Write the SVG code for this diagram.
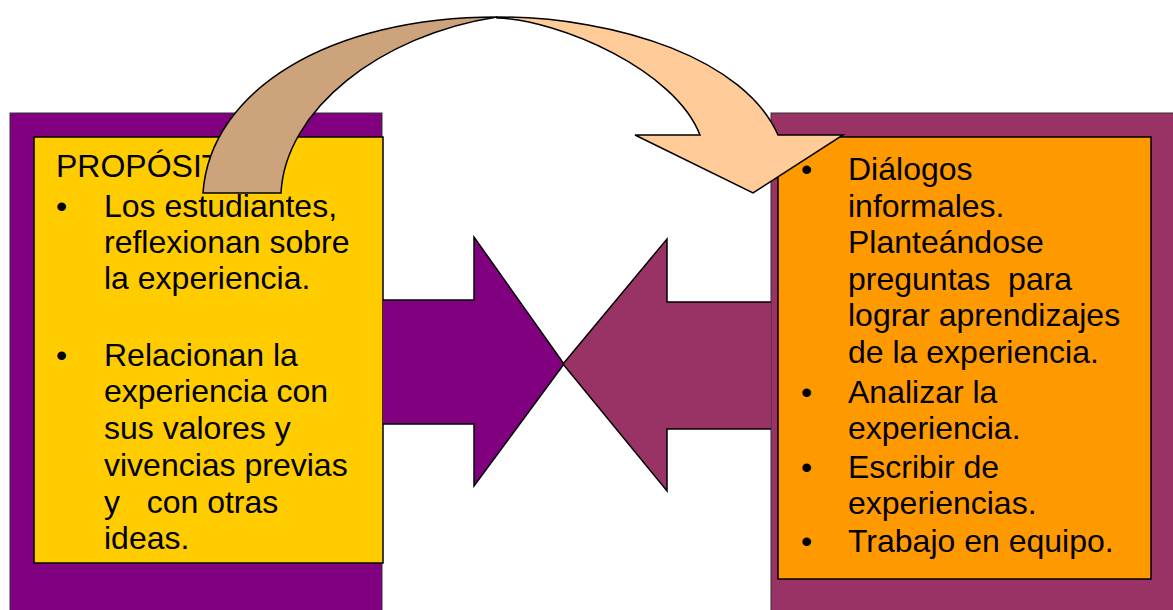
<svg xmlns="http://www.w3.org/2000/svg" width="1173" height="610" viewBox="0 0 1173 610">
<style>
.t{font-family:"Liberation Sans",Arial,sans-serif;font-size:32px;fill:#000}
.outer{stroke:#333;stroke-width:1}
.box{stroke:#000;stroke-width:1.5}
.arr{stroke:#000;stroke-width:1.5;stroke-linejoin:miter}
</style>
<rect width="1173" height="610" fill="#fff"/>
<g id="left-panel">
<rect class="outer" x="10" y="113" width="372" height="510" fill="#800080"/>
<rect class="box" x="34" y="137" width="349" height="426" fill="#FFCC00"/>
<text class="t" x="56" y="177">PROPÓSIT</text>
<text class="t" x="56" y="217">•</text>
<text class="t" x="104" y="217">Los estudiantes,</text>
<text class="t" x="104" y="253">reflexionan sobre</text>
<text class="t" x="104" y="288.5">la experiencia.</text>
<text class="t" x="56" y="366">•</text>
<text class="t" x="104" y="366">Relacionan la</text>
<text class="t" x="104" y="402">experiencia con</text>
<text class="t" x="104" y="439">sus valores y</text>
<text class="t" x="104" y="476">vivencias previas</text>
<text class="t" x="104" y="513" xml:space="preserve">y   con otras</text>
<text class="t" x="104" y="549">ideas.</text>
</g>
<g id="right-panel">
<rect class="outer" x="771" y="113" width="420" height="510" fill="#993366"/>
<rect class="box" x="778" y="137" width="373" height="442" fill="#FF9900"/>
<text class="t" x="801" y="180">•</text>
<text class="t" x="848" y="180">Diálogos</text>
<text class="t" x="848" y="216.5">informales.</text>
<text class="t" x="848" y="253">Planteándose</text>
<text class="t" x="848" y="289.5" xml:space="preserve">preguntas  para</text>
<text class="t" x="848" y="326">lograr aprendizajes</text>
<text class="t" x="848" y="362.5">de la experiencia.</text>
<text class="t" x="801" y="402.5">•</text>
<text class="t" x="848" y="402.5">Analizar la</text>
<text class="t" x="848" y="438.5">experiencia.</text>
<text class="t" x="801" y="478">•</text>
<text class="t" x="848" y="478">Escribir de</text>
<text class="t" x="848" y="514">experiencias.</text>
<text class="t" x="801" y="552">•</text>
<text class="t" x="848" y="552">Trabajo en equipo.</text>
</g>
<g id="connectors">
<path id="arrow-to-right" class="arr" fill="#800080" d="M383,300 H474 V237 L564,364 L474,486 V424 H383"/>
<path id="arrow-to-left" class="arr" fill="#993366" d="M771,302 H667 V239 L563,364 L667,491 V429 H771"/>
<g id="curved-arrow">
<path class="arr" fill="#CCA37A" d="M203,193 C210,90 330,17 497,17 C380,35 285,110 281,193 Z"/>
<path class="arr" fill="#FFCC99" d="M497,17 C620,17 745,60 778,135 L843,135 L753,193 L635,135 L700,135 C675,70 560,20 497,18 Z"/>
</g>
</g>
</svg>
